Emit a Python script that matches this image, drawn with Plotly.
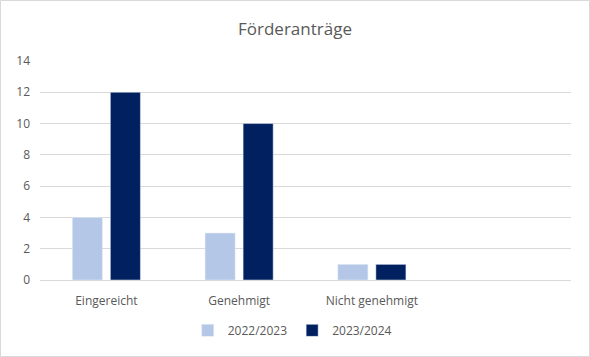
import plotly.graph_objects as go

categories = ["Eingereicht", "Genehmigt", "Nicht genehmigt"]
series_2223 = [4, 3, 1]
series_2324 = [12, 10, 1]
y_ticks = [0, 2, 4, 6, 8, 10, 12, 14]

fig = go.Figure()
fig.add_trace(go.Bar(name="2022/2023", x=categories, y=series_2223, marker_color="#B4C7E7"))
fig.add_trace(go.Bar(name="2023/2024", x=categories, y=series_2324, marker_color="#002060"))

font = "Open Sans, Liberation Sans, sans-serif"
fig.update_layout(
    width=590, height=357,
    paper_bgcolor="white", plot_bgcolor="white",
    barmode="group", bargap=0.427, bargroupgap=0.21,
    margin=dict(l=40, r=19, t=61, b=77),
    title=dict(text="Förderanträge", x=0.5, xanchor="center", y=0.92, yanchor="middle",
               font=dict(family=font, size=17, color="#595959")),
    font=dict(family=font, size=12, color="#595959"),
    legend=dict(orientation="h", x=0.475, xanchor="center", y=-0.23, yanchor="middle",
                font=dict(size=12, color="#595959"), itemwidth=30, traceorder="normal"),
    xaxis=dict(type="category", range=[-0.5, 3.5], showline=True, linecolor="#D9D9D9",
               linewidth=1, ticks="", showgrid=False, ticklabelstandoff=10,
               tickfont=dict(size=12, color="#595959")),
    yaxis=dict(range=[0, 14], tickvals=y_ticks, showgrid=True, gridcolor="#D9D9D9",
               gridwidth=1, zeroline=False, showline=False, ticks="", ticklabelstandoff=9,
               tickfont=dict(size=12, color="#595959")),
    shapes=[dict(type="rect", xref="paper", yref="paper", x0=-39.5/531, x1=1+18.5/531,
                 y0=-76.5/219, y1=1+60.5/219, line=dict(color="#D9D9D9", width=1))],
)
fig.write_html("out.html", config={"displayModeBar": False},
               post_script="document.body.style.margin='0';")
